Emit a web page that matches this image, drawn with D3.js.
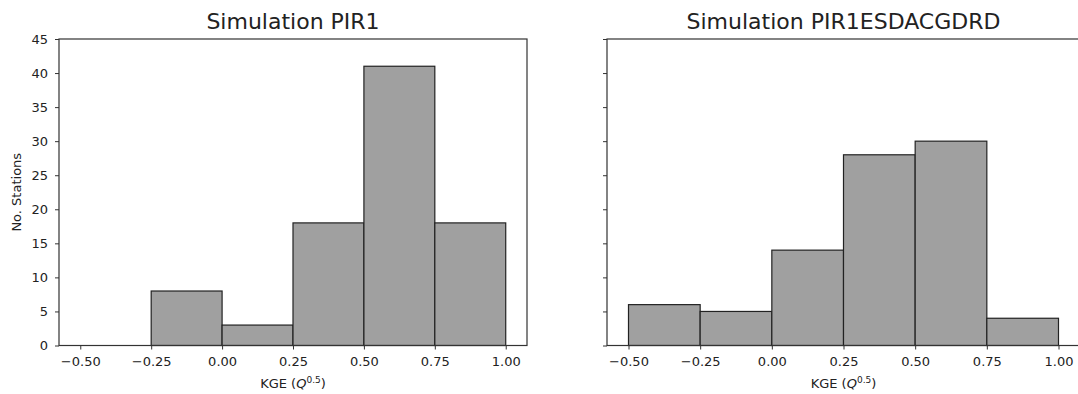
<!DOCTYPE html>
<html>
<head>
<meta charset="utf-8">
<script src="https://cdn.jsdelivr.net/npm/d3@7"></script>
<style>
  body { margin: 0; background: #fff; }
  text { font-family: "DejaVu Sans", sans-serif; fill: #222; }
</style>
</head>
<body>
<div id="chart"></div>
<script>
// bin edges and counts for the two simulations
const binEdges = [-0.5, -0.25, 0.0, 0.25, 0.5, 0.75, 1.0];
const countsPIR1 = [0, 8, 3, 18, 41, 18];
const countsESDAC = [6, 5, 14, 28, 30, 4];
const titles = ["Simulation PIR1", "Simulation PIR1ESDACGDRD"];
const xTicks = [-0.5, -0.25, 0.0, 0.25, 0.5, 0.75, 1.0];
const yTicks = [0, 5, 10, 15, 20, 25, 30, 35, 40, 45];

const width = 1078, height = 394;

const svg = d3.select("#chart")
  .append("svg")
  .attr("width", width)
  .attr("height", height);

// panel placement
const panels = [
  {left: 59, right: 527, counts: countsPIR1, title: titles[0], yLabels: true},
  {left: 607, right: 1080, counts: countsESDAC, title: titles[1], yLabels: false}
];
const plotTop = 39, plotBottom = 345.5;

const y = d3.scaleLinear().domain([0, 45]).range([plotBottom, plotTop]);

panels.forEach(p => {
  const x = d3.scaleLinear().domain([-0.575, 1.075]).range([p.left, p.right]);
  const g = svg.append("g");

  const bins = p.counts.map((c, i) => ({x0: binEdges[i], x1: binEdges[i + 1], n: c}));

  g.selectAll("rect")
    .data(bins.filter(d => d.n > 0))
    .join("rect")
    .attr("x", d => x(d.x0))
    .attr("y", d => y(d.n))
    .attr("width", d => x(d.x1) - x(d.x0))
    .attr("height", d => y(0) - y(d.n))
    .style("fill", "#a0a0a0")
    .style("stroke", "#222")
    .style("stroke-width", 1.2);

  // frame
  g.append("rect")
    .attr("x", p.left)
    .attr("y", plotTop)
    .attr("width", p.right - p.left)
    .attr("height", plotBottom - plotTop)
    .style("fill", "none")
    .style("stroke", "#333")
    .style("stroke-width", 1.2);

  const xAxis = g.append("g")
    .attr("transform", `translate(0,${plotBottom})`)
    .call(d3.axisBottom(x).tickValues(xTicks).tickSize(4).tickPadding(7)
      .tickFormat(d => d3.format(".2f")(d).replace("-", "\u2212")));
  xAxis.select(".domain").remove();
  xAxis.selectAll("text").style("font-size", "13px").style("fill", "#222");
  xAxis.selectAll("line").style("stroke", "#333");

  const yAxis = g.append("g")
    .attr("transform", `translate(${p.left},0)`)
    .call(d3.axisLeft(y).tickValues(yTicks).tickSize(4).tickPadding(7)
      .tickFormat(p.yLabels ? d3.format("d") : () => ""));
  yAxis.select(".domain").remove();
  yAxis.selectAll("text").style("font-size", "13px").style("fill", "#222");
  yAxis.selectAll("line").style("stroke", "#333");

  // title
  g.append("text")
    .attr("x", (p.left + p.right) / 2)
    .attr("y", 29)
    .attr("text-anchor", "middle")
    .style("font-size", "22px")
    .text(p.title);

  // x label: KGE (Q^0.5)
  const xl = g.append("text")
    .attr("x", (p.left + p.right) / 2)
    .attr("y", 388)
    .attr("text-anchor", "middle")
    .style("font-size", "13px");
  xl.append("tspan").text("KGE (");
  xl.append("tspan").style("font-style", "italic").text("Q");
  xl.append("tspan").attr("dy", -5).style("font-size", "9px").text("0.5");
  xl.append("tspan").attr("dy", 5).text(")");
});

svg.append("text")
  .attr("transform", `translate(21,${(plotTop + plotBottom) / 2}) rotate(-90)`)
  .attr("text-anchor", "middle")
  .style("font-size", "13px")
  .text("No. Stations");
</script>
</body>
</html>
